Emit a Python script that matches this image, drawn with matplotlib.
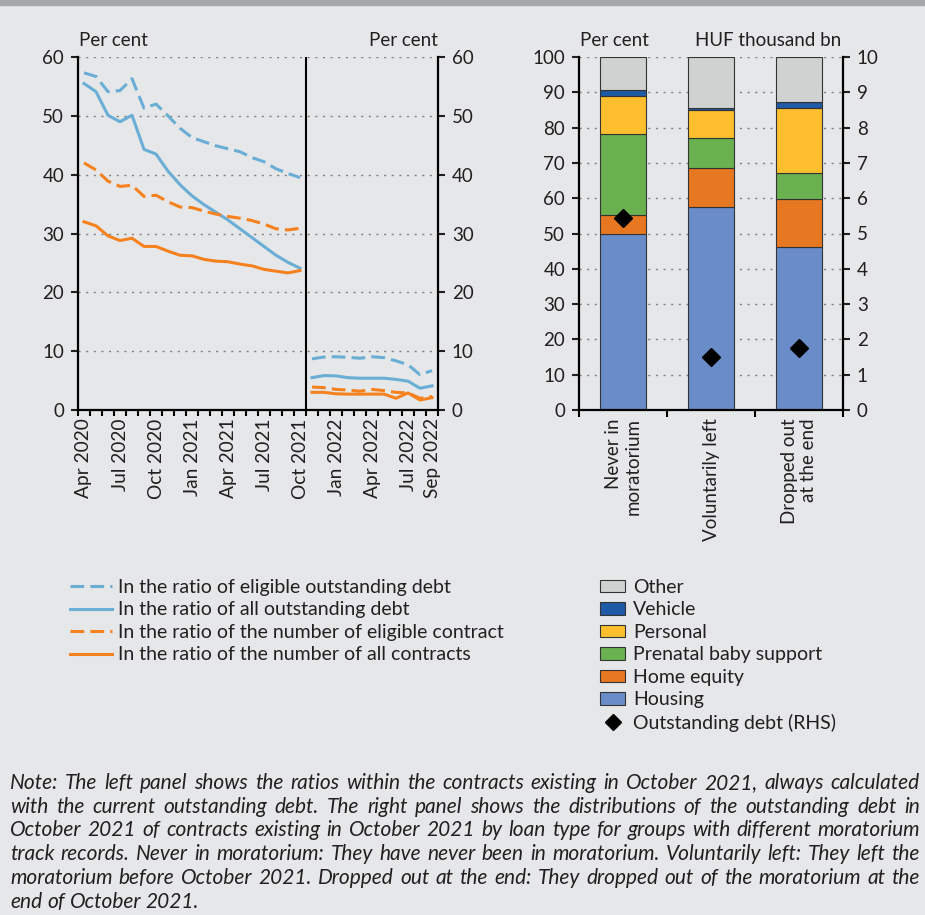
import matplotlib
matplotlib.use("Agg")
import matplotlib.pyplot as plt
import numpy as np
from matplotlib.lines import Line2D
from matplotlib.patches import Patch

plt.rcParams['font.family'] = ['Lato', 'DejaVu Sans']

# ---- data, left panel (per cent) ----
month_labels = ['Apr 2020', 'May 2020', 'Jun 2020', 'Jul 2020', 'Aug 2020', 'Sep 2020',
                'Oct 2020', 'Nov 2020', 'Dec 2020', 'Jan 2021', 'Feb 2021', 'Mar 2021',
                'Apr 2021', 'May 2021', 'Jun 2021', 'Jul 2021', 'Aug 2021', 'Sep 2021',
                'Oct 2021', 'Nov 2021', 'Dec 2021', 'Jan 2022', 'Feb 2022', 'Mar 2022',
                'Apr 2022', 'May 2022', 'Jun 2022', 'Jul 2022', 'Aug 2022', 'Sep 2022']
shown_months = ['Apr 2020', 'Jul 2020', 'Oct 2020', 'Jan 2021', 'Apr 2021', 'Jul 2021',
                'Oct 2021', 'Jan 2022', 'Apr 2022', 'Jul 2022', 'Sep 2022']

# Apr 2020 - Oct 2021
elig_debt_1 = [57.3, 56.7, 54.1, 54.3, 56.3, 51.3, 52.0, 50.0, 47.9, 46.3, 45.6, 44.9,
               44.4, 43.9, 42.9, 42.2, 41.0, 40.2, 39.5]
all_debt_1 = [55.5, 54.1, 50.1, 49.0, 50.1, 44.3, 43.5, 40.6, 38.3, 36.4, 34.9, 33.6,
              32.3, 30.8, 29.3, 27.8, 26.3, 25.1, 24.1]
elig_num_1 = [42.0, 40.8, 38.9, 38.0, 38.2, 36.3, 36.5, 35.4, 34.5, 34.4, 33.8, 33.3,
              32.9, 32.6, 32.2, 31.6, 30.8, 30.6, 30.9]
all_num_1 = [32.0, 31.3, 29.6, 28.8, 29.2, 27.8, 27.8, 27.0, 26.3, 26.2, 25.6, 25.3,
             25.2, 24.8, 24.5, 23.9, 23.6, 23.3, 23.7]
# Nov 2021 - Sep 2022
elig_debt_2 = [8.7, 9.0, 9.05, 8.95, 8.8, 9.05, 8.9, 8.35, 7.7, 6.0, 6.7]
all_debt_2 = [5.5, 5.85, 5.8, 5.5, 5.4, 5.4, 5.4, 5.2, 4.9, 3.7, 4.1]
elig_num_2 = [3.9, 3.8, 3.5, 3.4, 3.2, 3.5, 3.3, 3.0, 2.9, 2.0, 2.3]
all_num_2 = [3.0, 3.0, 2.75, 2.7, 2.7, 2.7, 2.7, 2.0, 2.9, 1.7, 2.1]

line_labels = ['In the ratio of eligible outstanding debt',
               'In the ratio of all outstanding debt',
               'In the ratio of the number of eligible contract',
               'In the ratio of the number of all contracts']

# ---- data, right panel ----
groups = ['Never in\nmoratorium', 'Voluntarily left', 'Dropped out\nat the end']
housing = [50.0, 57.4, 46.1]
home_equity = [5.2, 11.1, 13.7]
prenatal = [22.9, 8.5, 7.4]
personal = [10.8, 8.0, 18.3]
vehicle = [1.7, 0.5, 1.8]
other = [9.4, 14.5, 12.7]
debt_rhs = [5.43, 1.49, 1.77]
stack_names = ['Housing', 'Home equity', 'Prenatal baby support', 'Personal', 'Vehicle', 'Other']

note_lines = [
    "Note: The left panel shows the ratios within the contracts existing in October 2021, always calculated",
    "with the current outstanding debt. The right panel shows the distributions of the outstanding debt in",
    "October 2021 of contracts existing in October 2021 by loan type for groups with different moratorium",
    "track records. Never in moratorium: They have never been in moratorium. Voluntarily left: They left the",
    "moratorium before October 2021. Dropped out at the end: They dropped out of the moratorium at the",
    "end of October 2021.",
]

BG = '#e6e7e9'
BLUE = '#6aaed6'
ORANGE = '#f5821f'
TXT = '#231f20'
stack_colors = ['#6a8dc9', '#e87722', '#6ab150', '#fdbf2d', '#1f5aa6', '#d0d1d1']

W, H = 925, 915
fig = plt.figure(figsize=(W / 100, H / 100), dpi=100, facecolor=BG)
fig.patches.append(plt.Rectangle((0, 1 - 5 / H), 1, 5 / H, transform=fig.transFigure,
                                 color='#a6a7ab', zorder=0))

FS = 13.5      # axis text
FS_X = 13.75   # rotated dates
FS_LEG = 14
FS_NOTE = 15
bottom = 1 - 410 / H
height = 353 / H

# ---------- left panel ----------
ax = fig.add_axes([78 / W, bottom, 360 / W, height], facecolor=BG)
x1 = np.arange(len(elig_debt_1))
x2 = np.arange(len(elig_debt_1), len(month_labels))
dash = (0, (4.5, 2))
ax.plot(x1, elig_debt_1, color=BLUE, lw=2.2, ls=dash)
ax.plot(x1, all_debt_1, color=BLUE, lw=2.2)
ax.plot(x1, elig_num_1, color=ORANGE, lw=2.2, ls=dash)
ax.plot(x1, all_num_1, color=ORANGE, lw=2.2)
ax.plot(x2, elig_debt_2, color=BLUE, lw=2.2, ls=dash)
ax.plot(x2, all_debt_2, color=BLUE, lw=2.2)
ax.plot(x2, elig_num_2, color=ORANGE, lw=2.2, ls=dash)
ax.plot(x2, all_num_2, color=ORANGE, lw=2.2)
ax.axvline(len(elig_debt_1) - 0.5, color='black', lw=1.5)

ax.set_xlim(-0.5, len(month_labels) - 0.5)
ax.set_ylim(0, 60)
ax.set_yticks(range(0, 61, 10))
ax.yaxis.grid(True, color='#808080', ls=(0, (1.5, 4)), lw=1)
ax.set_axisbelow(True)
ax.set_xticks([month_labels.index(m) for m in shown_months])
ax.set_xticklabels(shown_months, rotation=90)
ax.set_xticks(np.arange(-0.5, len(month_labels), 1), minor=True)
ax.tick_params(axis='x', which='major', length=0, pad=6, labelsize=FS_X, colors=TXT)
ax.tick_params(axis='x', which='minor', length=4, width=1.5, direction='out')
ax.tick_params(axis='y', length=5, width=1.5, direction='out', labelsize=FS,
               colors=TXT, right=True, labelright=True, pad=5)
ax.spines['top'].set_visible(False)
for s in ['left', 'right', 'bottom']:
    ax.spines[s].set_linewidth(1.6)
fig.text(113 / W, 1 - 41 / H, 'Per cent', ha='center', va='center', fontsize=FS, color=TXT)
fig.text(403 / W, 1 - 41 / H, 'Per cent', ha='center', va='center', fontsize=FS, color=TXT)

# ---------- right panel ----------
ax2 = fig.add_axes([579 / W, bottom, 264 / W, height], facecolor=BG)
xs = np.arange(len(groups))
base = np.zeros(len(groups))
for vals, col, name in zip([housing, home_equity, prenatal, personal, vehicle, other],
                           stack_colors, stack_names):
    ax2.bar(xs, vals, 0.53, bottom=base, color=col, edgecolor='#333333', lw=0.8, label=name)
    base += np.array(vals)
ax2.set_xlim(-0.5, len(groups) - 0.5)
ax2.set_ylim(0, 100)
ax2.set_yticks(range(0, 101, 10))
ax2.yaxis.grid(True, color='#808080', ls=(0, (1.5, 4)), lw=1)
ax2.set_axisbelow(True)
ax2.set_xticks(xs)
ax2.set_xticklabels(groups, rotation=90, multialignment='right')
ax2.set_xticks(np.arange(-0.5, len(groups), 1), minor=True)
ax2.tick_params(axis='x', which='major', length=0, pad=6, labelsize=FS, colors=TXT)
ax2.tick_params(axis='x', which='minor', length=5, width=1.5, direction='out')
ax2.tick_params(axis='y', length=5, width=1.5, direction='out', labelsize=FS,
                colors=TXT, pad=5)
ax2.spines['top'].set_visible(False)
ax2.spines['right'].set_visible(False)
for s in ['left', 'bottom']:
    ax2.spines[s].set_linewidth(1.6)

ax3 = ax2.twinx()
ax3.plot(xs, debt_rhs, ls='none', marker='D', color='black', markersize=9)
ax3.set_ylim(0, 10)
ax3.set_yticks(range(0, 11, 1))
ax3.tick_params(axis='y', length=5, width=1.5, direction='out', labelsize=FS,
                colors=TXT, pad=5)
ax3.spines['top'].set_visible(False)
ax3.spines['left'].set_visible(False)
ax3.spines['bottom'].set_visible(False)
ax3.spines['right'].set_linewidth(1.6)
fig.text(614 / W, 1 - 41 / H, 'Per cent', ha='center', va='center', fontsize=FS, color=TXT)
fig.text(768 / W, 1 - 41 / H, 'HUF thousand bn', ha='center', va='center', fontsize=FS, color=TXT)

# ---------- legends ----------
line_handles = [Line2D([], [], color=BLUE, lw=2.2, ls=dash),
                Line2D([], [], color=BLUE, lw=2.2),
                Line2D([], [], color=ORANGE, lw=2.2, ls=dash),
                Line2D([], [], color=ORANGE, lw=2.2)]
fig.legend(line_handles, line_labels, loc='upper left', bbox_to_anchor=(70 / W, 1 - 579 / H),
           frameon=False, fontsize=FS_LEG, handlelength=2.15, handletextpad=0.3,
           labelspacing=0.28, borderpad=0, borderaxespad=0, labelcolor=TXT)

bar_handles = [Patch(facecolor=c, edgecolor='#333333', lw=0.8) for c in stack_colors][::-1]
bar_handles.append(Line2D([], [], ls='none', marker='D', color='black', markersize=8))
bar_labels = stack_names[::-1] + ['Outstanding debt (RHS)']
fig.legend(bar_handles, bar_labels, loc='upper left', bbox_to_anchor=(600 / W, 1 - 579 / H),
           frameon=False, fontsize=FS_LEG, handlelength=1.3, handleheight=0.62, handletextpad=0.4,
           labelspacing=0.28, borderpad=0, borderaxespad=0, labelcolor=TXT)

# ---------- note, justified ----------
renderer = fig.canvas.get_renderer()
x_left, x_right = 10, 920
y0, dy = 783, 23.7
space = fig.text(0, 0, 'a a', fontsize=FS_NOTE, style='italic')
aa = fig.text(0, 0, 'aa', fontsize=FS_NOTE, style='italic')
space_w = space.get_window_extent(renderer).width - aa.get_window_extent(renderer).width
space.remove()
aa.remove()
for i, line in enumerate(note_lines):
    y = 1 - (y0 + i * dy) / H
    words = line.split()
    texts = [fig.text(0, y, w, fontsize=FS_NOTE, style='italic', va='center', color=TXT)
             for w in words]
    widths = [t.get_window_extent(renderer).width for t in texts]
    if i == len(note_lines) - 1:
        gap = space_w
    else:
        gap = (x_right - x_left - sum(widths)) / (len(words) - 1)
    xpos = x_left
    for t, w in zip(texts, widths):
        t.set_x(xpos / W)
        xpos += w + gap

fig.savefig('out.png', dpi=100, facecolor=BG)
